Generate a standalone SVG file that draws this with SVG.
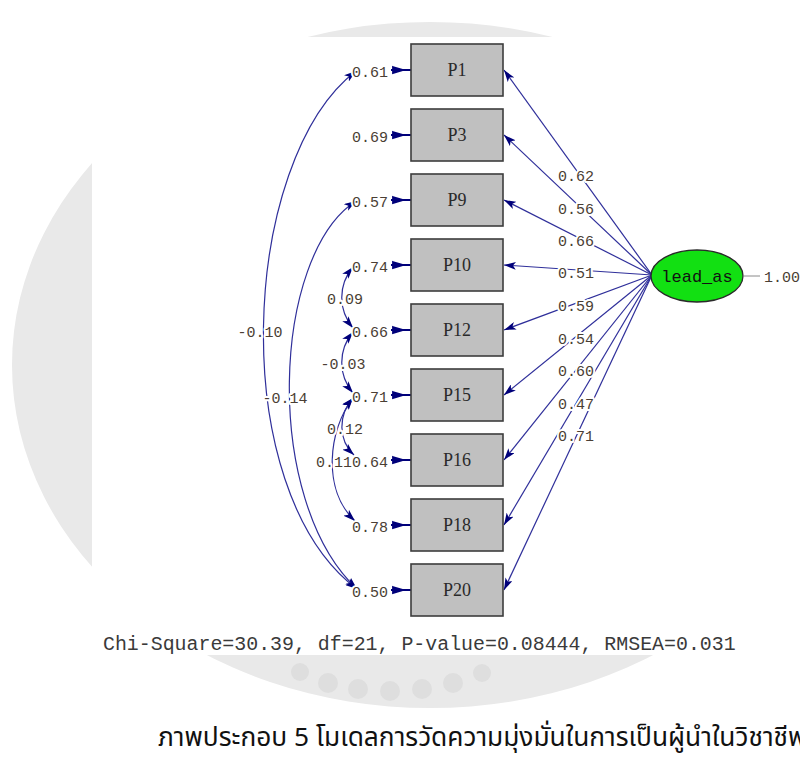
<svg xmlns="http://www.w3.org/2000/svg" xmlns:xlink="http://www.w3.org/1999/xlink" width="800" height="781" viewBox="0 0 800 781">
<style>
.wm{fill:#e9e9e9}
.dot{fill:#dedede}
.box{fill:#c0c0c0;stroke:#3c3c3c;stroke-width:1.6}
.bt{font-family:"Liberation Serif",serif;font-size:18px;fill:#2a2a2a;text-anchor:middle}
.lab{font-family:"Liberation Mono",monospace;font-size:15px;fill:#4a3e34;paint-order:stroke;stroke:#ffffff;stroke-width:4px;stroke-linejoin:round}
.cn{fill:none;stroke:#2f2f9a;stroke-width:1.2}
.err{fill:#00007a;stroke:#00007a;stroke-width:1.8}
.fit{font-family:"Liberation Mono",monospace;font-size:19.9px;fill:#3a3a3a}
.cap{font-family:"Noto Sans Thai","Noto Sans","DejaVu Sans",sans-serif;font-size:26.3px;fill:#111111}
</style>
<defs>
<marker id="ah" viewBox="0 0 12 8" refX="12" refY="4" markerWidth="12" markerHeight="8" markerUnits="userSpaceOnUse" orient="auto-start-reverse">
<path d="M0,0 L12,4 L0,8 L3,4 Z" fill="#00007a"/>
</marker>
<path id="err" d="M391,0 H411 M393,-3 L403,0 L393,3 Z"/>
</defs>
<rect width="800" height="781" fill="#ffffff"/>
<g id="watermark">
<path class="wm" fill-rule="evenodd" d="M12,365 A418,343 0 1,1 848,365 A418,343 0 1,1 12,365 Z M95,365 A335,283 0 1,1 765,365 A335,283 0 1,1 95,365 Z"/>
<circle class="dot" cx="300" cy="672" r="9"/>
<circle class="dot" cx="328" cy="683" r="10"/>
<circle class="dot" cx="358" cy="689" r="10"/>
<circle class="dot" cx="390" cy="691" r="10"/>
<circle class="dot" cx="422" cy="689" r="10"/>
<circle class="dot" cx="453" cy="683" r="10"/>
<circle class="dot" cx="482" cy="673" r="9"/>
</g>
<rect x="92" y="37" width="708" height="618" fill="#ffffff"/>
<g id="connectors">
<path class="cn" marker-end="url(#ah)" d="M652,275 L504,70"/>
<path class="cn" marker-end="url(#ah)" d="M652,275 L504,135"/>
<path class="cn" marker-end="url(#ah)" d="M652,275 L504,200"/>
<path class="cn" marker-end="url(#ah)" d="M652,275 L504,265"/>
<path class="cn" marker-end="url(#ah)" d="M652,275 L504,330"/>
<path class="cn" marker-end="url(#ah)" d="M652,275 L504,395"/>
<path class="cn" marker-end="url(#ah)" d="M652,275 L504,460"/>
<path class="cn" marker-end="url(#ah)" d="M652,275 L504,525"/>
<path class="cn" marker-end="url(#ah)" d="M652,275 L504,590"/>
<path class="cn" marker-start="url(#ah)" marker-end="url(#ah)" d="M356,71 C240,160 225,490 357,589"/>
<path class="cn" marker-start="url(#ah)" marker-end="url(#ah)" d="M356,201 C272,255 262,500 357,589"/>
<path class="cn" marker-start="url(#ah)" marker-end="url(#ah)" d="M353,267 C338,285 338,310 353,328"/>
<path class="cn" marker-start="url(#ah)" marker-end="url(#ah)" d="M353,332 C338,350 338,375 353,393"/>
<path class="cn" marker-start="url(#ah)" marker-end="url(#ah)" d="M353,398 C338,415 338,440 354,455"/>
<path class="cn" marker-start="url(#ah)" marker-end="url(#ah)" d="M353,398 C328,430 322,490 355,521"/>
<line x1="744" y1="276" x2="760" y2="276" stroke="#8a8a8a" stroke-width="1"/>
<g class="err">
<use xlink:href="#err" y="70"/>
<use xlink:href="#err" y="135"/>
<use xlink:href="#err" y="200"/>
<use xlink:href="#err" y="265"/>
<use xlink:href="#err" y="330"/>
<use xlink:href="#err" y="395"/>
<use xlink:href="#err" y="460"/>
<use xlink:href="#err" y="525"/>
<use xlink:href="#err" y="590"/>
</g>
<g id="loading-labels" class="lab" text-anchor="middle">
<text x="576" y="181">0.62</text>
<text x="576" y="214">0.56</text>
<text x="576" y="246">0.66</text>
<text x="576" y="278">0.51</text>
<text x="576" y="311">0.59</text>
<text x="576" y="344">0.54</text>
<text x="576" y="376">0.60</text>
<text x="576" y="409">0.47</text>
<text x="576" y="441">0.71</text>
</g>
<g id="cov-labels" class="lab" text-anchor="middle">
<text x="260" y="337">-0.10</text>
<text x="285" y="403">-0.14</text>
<text x="345" y="304">0.09</text>
<text x="343" y="369">-0.03</text>
<text x="345" y="434">0.12</text>
<text x="334" y="467">0.11</text>
</g>
</g>
<g id="P1"><text class="lab" x="388" y="77" text-anchor="end">0.61</text><rect class="box" x="411" y="44" width="92" height="52"/><text class="bt" x="457" y="76">P1</text></g>
<g id="P3"><text class="lab" x="388" y="142" text-anchor="end">0.69</text><rect class="box" x="411" y="109" width="92" height="52"/><text class="bt" x="457" y="141">P3</text></g>
<g id="P9"><text class="lab" x="388" y="207" text-anchor="end">0.57</text><rect class="box" x="411" y="174" width="92" height="52"/><text class="bt" x="457" y="206">P9</text></g>
<g id="P10"><text class="lab" x="388" y="272" text-anchor="end">0.74</text><rect class="box" x="411" y="239" width="92" height="52"/><text class="bt" x="457" y="271">P10</text></g>
<g id="P12"><text class="lab" x="388" y="337" text-anchor="end">0.66</text><rect class="box" x="411" y="304" width="92" height="52"/><text class="bt" x="457" y="336">P12</text></g>
<g id="P15"><text class="lab" x="388" y="402" text-anchor="end">0.71</text><rect class="box" x="411" y="369" width="92" height="52"/><text class="bt" x="457" y="401">P15</text></g>
<g id="P16"><text class="lab" x="388" y="467" text-anchor="end">0.64</text><rect class="box" x="411" y="434" width="92" height="52"/><text class="bt" x="457" y="466">P16</text></g>
<g id="P18"><text class="lab" x="388" y="532" text-anchor="end">0.78</text><rect class="box" x="411" y="499" width="92" height="52"/><text class="bt" x="457" y="531">P18</text></g>
<g id="P20"><text class="lab" x="388" y="597" text-anchor="end">0.50</text><rect class="box" x="411" y="564" width="92" height="52"/><text class="bt" x="457" y="596">P20</text></g>
<g id="lead_as">
<ellipse cx="697" cy="276" rx="46" ry="26" fill="#12e012" stroke="#2a2a2a" stroke-width="1.3"/>
<text x="697" y="282" text-anchor="middle" style="font-family:'Liberation Mono',monospace;font-size:17px;fill:#111111">lead_as</text>
<text class="lab" x="764" y="282">1.00</text>
</g>
<text class="fit" x="103" y="650">Chi-Square=30.39, df=21, P-value=0.08444, RMSEA=0.031</text>
<text class="cap" x="158" y="746">ภาพประกอบ 5 โมเดลการวัดความมุ่งมั่นในการเป็นผู้นำในวิชาชีพ</text>
</svg>
